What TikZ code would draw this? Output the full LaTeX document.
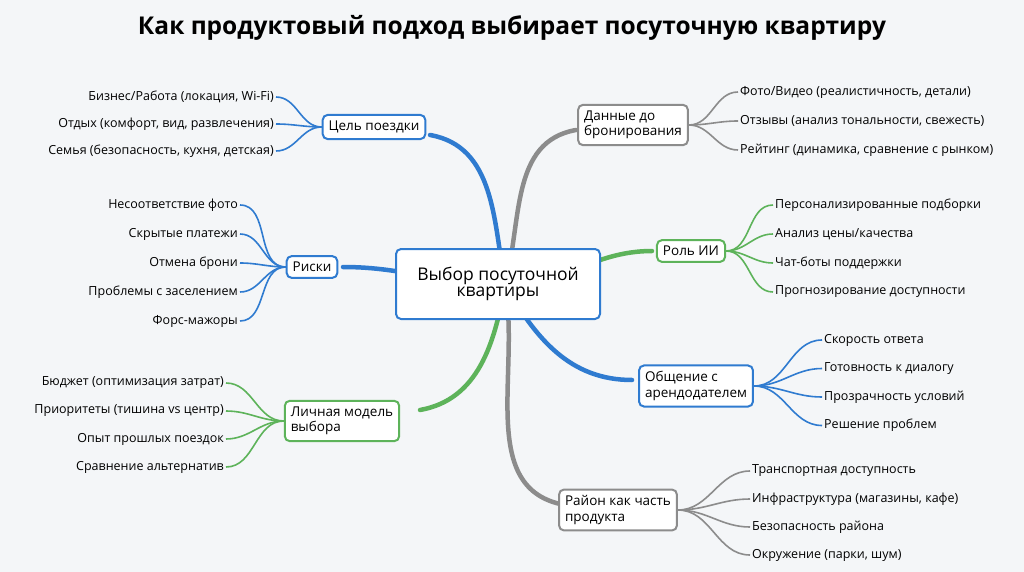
\documentclass[tikz,border=0pt]{standalone}
\usepackage{fontspec}
\setmainfont{Open Sans}
\usetikzlibrary{positioning}
\definecolor{bblue}{HTML}{2F7BD0}
\definecolor{bgray}{HTML}{8C8C8C}
\definecolor{bgreen}{HTML}{5DB35A}
\definecolor{bgfill}{HTML}{F4F6F8}
\begin{document}
\begin{tikzpicture}[x=1pt,y=-1pt,
    box/.style={draw=#1,line width=2pt,rounded corners=5pt,fill=white,align=left,font=\fontsize{13.5}{15.5}\selectfont,inner sep=6pt},
    leaf/.style={font=\fontsize{12.5}{14}\selectfont,inner sep=2pt},
    branch/.style={draw=#1,line width=4.5pt,line cap=round},
    twig/.style={draw=#1,line width=1.6pt}]
    \useasboundingbox (0,0) rectangle (1024,572);
    \fill[bgfill] (0,0) rectangle (1024,572);
    \node[font=\bfseries\fontsize{24.5}{28}\selectfont] (title) at (512,28) {Как продуктовый подход выбирает посуточную квартиру};
    % main branches (drawn first, boxes on top)
    \coordinate (hub) at (505,285);
    \coordinate (goalend) at (430,135);
    \coordinate (riskend) at (343,267);
    \coordinate (modelend) at (420,410);
    \coordinate (dataend) at (576,130);
    \coordinate (aiend) at (652,251);
    \coordinate (talkend) at (632,380);
    \coordinate (areaend) at (565,505);
    \draw[branch=bblue] (hub) to[out=100,in=-10] (goalend);
    \draw[branch=bblue] (hub) to[out=180,in=0] (riskend);
    \draw[branch=bgreen] (hub) to[out=-100,in=10] (modelend);
    \draw[branch=bgray] (hub) to[out=75,in=190] (dataend);
    \draw[branch=bgreen] (hub) to[out=0,in=180] (aiend);
    \draw[branch=bblue] (hub) to[out=-60,in=180] (talkend);
    \draw[branch=bgray] (hub) to[out=-80,in=170] (areaend);
    % boxes
    \node[box=bblue,minimum width=204,minimum height=70,align=center] (hubbox) at (498,284) {\fontsize{17.5}{20.5}\selectfont Выбор посуточной\\\fontsize{17.5}{20.5}\selectfont квартиры};
    \node[box=bblue] (goal) at (374,127) {Цель поездки};
    \node[box=bblue] (risk) at (312,267) {Риски};
    \node[box=bgreen] (model) at (342,421) {Личная модель\\выбора};
    \node[box=bgray] (data) at (633,125) {Данные до\\бронирования};
    \node[box=bgreen] (ai) at (691,251) {Роль ИИ};
    \node[box=bblue] (talk) at (696,386) {Общение с\\арендодателем};
    \node[box=bgray] (area) at (618,510) {Район как часть\\продукта};
    % left leaves
    \foreach \t [count=\i] in {{Бизнес/Работа (локация, Wi-Fi)},{Отдых (комфорт, вид, развлечения)},{Семья (безопасность, кухня, детская)}}
        \node[leaf,anchor=east] (goal\i) at (276,97+27*\i-27) {\t};
    \foreach \i in {1,...,3} \draw[twig=bblue] (goal.west) to[out=180,in=0] (goal\i.east);
    \foreach \t [count=\i] in {Несоответствие фото,Скрытые платежи,Отмена брони,Проблемы с заселением,Форс-мажоры}
        \node[leaf,anchor=east] (risk\i) at (240,205+29*\i-29) {\t};
    \foreach \i in {1,...,5} \draw[twig=bblue] (risk.west) to[out=180,in=0] (risk\i.east);
    \foreach \t [count=\i] in {Бюджет (оптимизация затрат),Приоритеты (тишина vs центр),Опыт прошлых поездок,Сравнение альтернатив}
        \node[leaf,anchor=east] (model\i) at (226,383+28*\i-28) {\t};
    \foreach \i in {1,...,4} \draw[twig=bgreen] (model.west) to[out=180,in=0] (model\i.east);
    % right leaves
    \foreach \t [count=\i] in {{Фото/Видео (реалистичность, детали)},{Отзывы (анализ тональности, свежесть)},{Рейтинг (динамика, сравнение с рынком)}}
        \node[leaf,anchor=west] (data\i) at (738,92+29*\i-29) {\t};
    \foreach \i in {1,...,3} \draw[twig=bgray] (data.east) to[out=0,in=180] (data\i.west);
    \foreach \t [count=\i] in {Персонализированные подборки,Анализ цены/качества,Чат-боты поддержки,Прогнозирование доступности}
        \node[leaf,anchor=west] (ai\i) at (773,205+29*\i-29) {\t};
    \foreach \i in {1,...,4} \draw[twig=bgreen] (ai.east) to[out=0,in=180] (ai\i.west);
    \foreach \t [count=\i] in {Скорость ответа,Готовность к диалогу,Прозрачность условий,Решение проблем}
        \node[leaf,anchor=west] (talk\i) at (822,340+28.5*\i-28.5) {\t};
    \foreach \i in {1,...,4} \draw[twig=bblue] (talk.east) to[out=0,in=180] (talk\i.west);
    \foreach \t [count=\i] in {Транспортная доступность,{Инфраструктура (магазины, кафе)},Безопасность района,{Окружение (парки, шум)}}
        \node[leaf,anchor=west] (area\i) at (750,471+28*\i-28) {\t};
    \foreach \i in {1,...,4} \draw[twig=bgray] (area.east) to[out=0,in=180] (area\i.west);
\end{tikzpicture}
\end{document}
